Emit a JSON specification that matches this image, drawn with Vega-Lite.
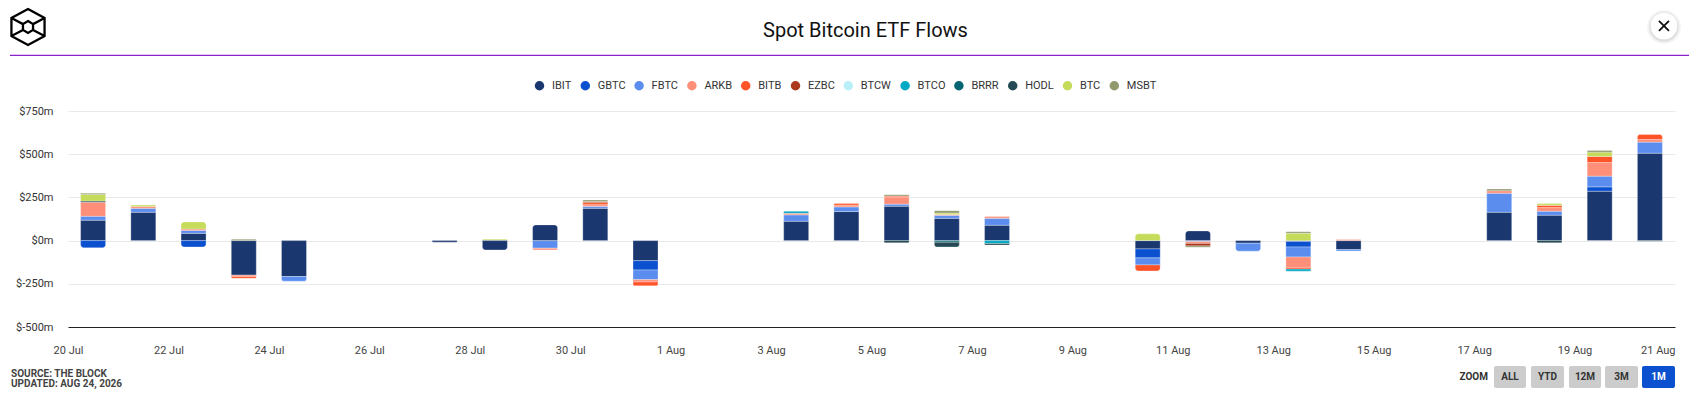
{
  "$schema": "https://vega.github.io/schema/vega-lite/v6.json",
  "autosize": {"type": "none"},
  "padding": {"left": 68, "top": 111, "right": 25, "bottom": 76},
  "width": 1607,
  "height": 216,
  "background": "white",
  "config": {"view": {"stroke": null}, "font": "Roboto"},
  "title": {"text": "Spot Bitcoin ETF Flows", "font": "Roboto", "fontSize": 20, "fontWeight": 400, "color": "#111111", "anchor": "middle", "frame": "group", "dx": -6, "offset": -37},
  "datasets": {
    "flows": [
      {"date": "2026-07-20T12:00:00Z", "ticker": "IBIT", "flow": 118},
      {"date": "2026-07-20T12:00:00Z", "ticker": "GBTC", "flow": -42},
      {"date": "2026-07-20T12:00:00Z", "ticker": "FBTC", "flow": 23},
      {"date": "2026-07-20T12:00:00Z", "ticker": "ARKB", "flow": 81},
      {"date": "2026-07-20T12:00:00Z", "ticker": "HODL", "flow": 7},
      {"date": "2026-07-20T12:00:00Z", "ticker": "BTC", "flow": 38},
      {"date": "2026-07-20T12:00:00Z", "ticker": "MSBT", "flow": 7},
      {"date": "2026-07-21T12:00:00Z", "ticker": "IBIT", "flow": 164},
      {"date": "2026-07-21T12:00:00Z", "ticker": "FBTC", "flow": 23},
      {"date": "2026-07-21T12:00:00Z", "ticker": "ARKB", "flow": 11},
      {"date": "2026-07-21T12:00:00Z", "ticker": "BTC", "flow": 8},
      {"date": "2026-07-22T12:00:00Z", "ticker": "IBIT", "flow": 42},
      {"date": "2026-07-22T12:00:00Z", "ticker": "GBTC", "flow": -37},
      {"date": "2026-07-22T12:00:00Z", "ticker": "FBTC", "flow": 17},
      {"date": "2026-07-22T12:00:00Z", "ticker": "ARKB", "flow": 8},
      {"date": "2026-07-22T12:00:00Z", "ticker": "BTC", "flow": 41},
      {"date": "2026-07-23T12:00:00Z", "ticker": "IBIT", "flow": -200},
      {"date": "2026-07-23T12:00:00Z", "ticker": "ARKB", "flow": -8},
      {"date": "2026-07-23T12:00:00Z", "ticker": "BITB", "flow": -10},
      {"date": "2026-07-23T12:00:00Z", "ticker": "MSBT", "flow": 8},
      {"date": "2026-07-24T12:00:00Z", "ticker": "IBIT", "flow": -208},
      {"date": "2026-07-24T12:00:00Z", "ticker": "FBTC", "flow": -27},
      {"date": "2026-07-27T12:00:00Z", "ticker": "IBIT", "flow": -9},
      {"date": "2026-07-28T12:00:00Z", "ticker": "IBIT", "flow": -54},
      {"date": "2026-07-28T12:00:00Z", "ticker": "BTC", "flow": 8},
      {"date": "2026-07-29T12:00:00Z", "ticker": "IBIT", "flow": 91},
      {"date": "2026-07-29T12:00:00Z", "ticker": "FBTC", "flow": -44},
      {"date": "2026-07-29T12:00:00Z", "ticker": "ARKB", "flow": -10},
      {"date": "2026-07-30T12:00:00Z", "ticker": "IBIT", "flow": 187},
      {"date": "2026-07-30T12:00:00Z", "ticker": "FBTC", "flow": 11},
      {"date": "2026-07-30T12:00:00Z", "ticker": "ARKB", "flow": 10},
      {"date": "2026-07-30T12:00:00Z", "ticker": "BITB", "flow": 12},
      {"date": "2026-07-30T12:00:00Z", "ticker": "EZBC", "flow": 6},
      {"date": "2026-07-30T12:00:00Z", "ticker": "MSBT", "flow": 9},
      {"date": "2026-07-31T12:00:00Z", "ticker": "IBIT", "flow": -116},
      {"date": "2026-07-31T12:00:00Z", "ticker": "GBTC", "flow": -54},
      {"date": "2026-07-31T12:00:00Z", "ticker": "FBTC", "flow": -56},
      {"date": "2026-07-31T12:00:00Z", "ticker": "ARKB", "flow": -14},
      {"date": "2026-07-31T12:00:00Z", "ticker": "BITB", "flow": -22},
      {"date": "2026-08-03T12:00:00Z", "ticker": "IBIT", "flow": 112},
      {"date": "2026-08-03T12:00:00Z", "ticker": "FBTC", "flow": 37},
      {"date": "2026-08-03T12:00:00Z", "ticker": "ARKB", "flow": 9},
      {"date": "2026-08-03T12:00:00Z", "ticker": "BTCO", "flow": 12},
      {"date": "2026-08-04T12:00:00Z", "ticker": "IBIT", "flow": 168},
      {"date": "2026-08-04T12:00:00Z", "ticker": "FBTC", "flow": 27},
      {"date": "2026-08-04T12:00:00Z", "ticker": "ARKB", "flow": 10},
      {"date": "2026-08-04T12:00:00Z", "ticker": "BITB", "flow": 9},
      {"date": "2026-08-05T12:00:00Z", "ticker": "IBIT", "flow": 199},
      {"date": "2026-08-05T12:00:00Z", "ticker": "FBTC", "flow": 12},
      {"date": "2026-08-05T12:00:00Z", "ticker": "ARKB", "flow": 42},
      {"date": "2026-08-05T12:00:00Z", "ticker": "BITB", "flow": 5},
      {"date": "2026-08-05T12:00:00Z", "ticker": "HODL", "flow": -13},
      {"date": "2026-08-05T12:00:00Z", "ticker": "MSBT", "flow": 8},
      {"date": "2026-08-06T12:00:00Z", "ticker": "IBIT", "flow": 129},
      {"date": "2026-08-06T12:00:00Z", "ticker": "FBTC", "flow": 17},
      {"date": "2026-08-06T12:00:00Z", "ticker": "ARKB", "flow": 6},
      {"date": "2026-08-06T12:00:00Z", "ticker": "BRRR", "flow": -9},
      {"date": "2026-08-06T12:00:00Z", "ticker": "HODL", "flow": -28},
      {"date": "2026-08-06T12:00:00Z", "ticker": "BTC", "flow": 8},
      {"date": "2026-08-06T12:00:00Z", "ticker": "MSBT", "flow": 13},
      {"date": "2026-08-07T12:00:00Z", "ticker": "IBIT", "flow": 89},
      {"date": "2026-08-07T12:00:00Z", "ticker": "FBTC", "flow": 40},
      {"date": "2026-08-07T12:00:00Z", "ticker": "ARKB", "flow": 10},
      {"date": "2026-08-07T12:00:00Z", "ticker": "BTCO", "flow": -17},
      {"date": "2026-08-07T12:00:00Z", "ticker": "HODL", "flow": -9},
      {"date": "2026-08-10T12:00:00Z", "ticker": "IBIT", "flow": -48},
      {"date": "2026-08-10T12:00:00Z", "ticker": "GBTC", "flow": -52},
      {"date": "2026-08-10T12:00:00Z", "ticker": "FBTC", "flow": -41},
      {"date": "2026-08-10T12:00:00Z", "ticker": "BITB", "flow": -35},
      {"date": "2026-08-10T12:00:00Z", "ticker": "BTC", "flow": 39},
      {"date": "2026-08-11T12:00:00Z", "ticker": "IBIT", "flow": 56},
      {"date": "2026-08-11T12:00:00Z", "ticker": "FBTC", "flow": -6},
      {"date": "2026-08-11T12:00:00Z", "ticker": "ARKB", "flow": -10},
      {"date": "2026-08-11T12:00:00Z", "ticker": "EZBC", "flow": -15},
      {"date": "2026-08-11T12:00:00Z", "ticker": "MSBT", "flow": -8},
      {"date": "2026-08-12T12:00:00Z", "ticker": "IBIT", "flow": -15},
      {"date": "2026-08-12T12:00:00Z", "ticker": "FBTC", "flow": -46},
      {"date": "2026-08-13T12:00:00Z", "ticker": "IBIT", "flow": -5},
      {"date": "2026-08-13T12:00:00Z", "ticker": "GBTC", "flow": -32},
      {"date": "2026-08-13T12:00:00Z", "ticker": "FBTC", "flow": -58},
      {"date": "2026-08-13T12:00:00Z", "ticker": "ARKB", "flow": -60},
      {"date": "2026-08-13T12:00:00Z", "ticker": "BITB", "flow": -10},
      {"date": "2026-08-13T12:00:00Z", "ticker": "BTCO", "flow": -12},
      {"date": "2026-08-13T12:00:00Z", "ticker": "BTC", "flow": 42},
      {"date": "2026-08-13T12:00:00Z", "ticker": "MSBT", "flow": 9},
      {"date": "2026-08-14T12:00:00Z", "ticker": "IBIT", "flow": -52},
      {"date": "2026-08-14T12:00:00Z", "ticker": "FBTC", "flow": -8},
      {"date": "2026-08-14T12:00:00Z", "ticker": "ARKB", "flow": 6},
      {"date": "2026-08-17T12:00:00Z", "ticker": "IBIT", "flow": 164},
      {"date": "2026-08-17T12:00:00Z", "ticker": "FBTC", "flow": 110},
      {"date": "2026-08-17T12:00:00Z", "ticker": "ARKB", "flow": 15},
      {"date": "2026-08-17T12:00:00Z", "ticker": "MSBT", "flow": 10},
      {"date": "2026-08-18T12:00:00Z", "ticker": "IBIT", "flow": 147},
      {"date": "2026-08-18T12:00:00Z", "ticker": "FBTC", "flow": 23},
      {"date": "2026-08-18T12:00:00Z", "ticker": "ARKB", "flow": 21},
      {"date": "2026-08-18T12:00:00Z", "ticker": "BITB", "flow": 13},
      {"date": "2026-08-18T12:00:00Z", "ticker": "HODL", "flow": -13},
      {"date": "2026-08-18T12:00:00Z", "ticker": "BTC", "flow": 10},
      {"date": "2026-08-19T12:00:00Z", "ticker": "IBIT", "flow": 286},
      {"date": "2026-08-19T12:00:00Z", "ticker": "GBTC", "flow": 25},
      {"date": "2026-08-19T12:00:00Z", "ticker": "FBTC", "flow": 62},
      {"date": "2026-08-19T12:00:00Z", "ticker": "ARKB", "flow": 79},
      {"date": "2026-08-19T12:00:00Z", "ticker": "BITB", "flow": 35},
      {"date": "2026-08-19T12:00:00Z", "ticker": "BTC", "flow": 25},
      {"date": "2026-08-19T12:00:00Z", "ticker": "MSBT", "flow": 10},
      {"date": "2026-08-20T12:00:00Z", "ticker": "IBIT", "flow": 506},
      {"date": "2026-08-20T12:00:00Z", "ticker": "FBTC", "flow": 64},
      {"date": "2026-08-20T12:00:00Z", "ticker": "ARKB", "flow": 15},
      {"date": "2026-08-20T12:00:00Z", "ticker": "BITB", "flow": 29},
      {"date": "2026-08-20T12:00:00Z", "ticker": "HODL", "flow": -4}
    ]
  },
  "data": {"values": [{}]},
  "layer": [
    {
      "data": {"name": "flows"},
      "transform": [
        {"calculate": "indexof(['IBIT','GBTC','FBTC','ARKB','BITB','EZBC','BTCW','BTCO','BRRR','HODL','BTC','MSBT'], datum.ticker)", "as": "series"},
        {"stack": "flow", "groupby": ["date"], "sort": [{"field": "series", "order": "ascending"}], "offset": "zero", "as": ["y0", "y1"]},
        {"calculate": "datum.flow > 0", "as": "up"},
        {"joinaggregate": [{"op": "max", "field": "series", "as": "last"}], "groupby": ["date", "up"]}
      ],
      "encoding": {
        "x": {
          "field": "date",
          "type": "temporal",
          "scale": {"type": "utc", "padding": 0, "domain": ["2026-07-20T00:00:00Z", "2026-08-21T00:00:00Z"]},
          "axis": {
            "title": null,
            "values": ["2026-07-20T00:00:00Z", "2026-07-22T00:00:00Z", "2026-07-24T00:00:00Z", "2026-07-26T00:00:00Z", "2026-07-28T00:00:00Z", "2026-07-30T00:00:00Z", "2026-08-01T00:00:00Z", "2026-08-03T00:00:00Z", "2026-08-05T00:00:00Z", "2026-08-07T00:00:00Z", "2026-08-09T00:00:00Z", "2026-08-11T00:00:00Z", "2026-08-13T00:00:00Z", "2026-08-15T00:00:00Z", "2026-08-17T00:00:00Z", "2026-08-19T00:00:00Z", "2026-08-21T00:00:00Z"],
            "labelExpr": "utcFormat(datum.value, '%-d %b')",
            "grid": false,
            "ticks": false,
            "domain": true,
            "domainColor": "#222222",
            "labelAngle": 0,
            "labelBound": false,
            "labelFlush": false,
            "labelOverlap": false,
            "labelPadding": 17,
            "labelFont": "Roboto",
            "labelFontSize": 11,
            "labelColor": "#444444",
            "labelAlign": {"condition": {"test": "utcdate(datum.value) == 21 && utcmonth(datum.value) == 7", "value": "right"}, "value": "center"}
          }
        },
        "y": {
          "field": "y1",
          "type": "quantitative",
          "scale": {"domain": [-500, 750], "nice": false},
          "axis": {
            "title": null,
            "values": [-500, -250, 0, 250, 500, 750],
            "labelExpr": "'$' + datum.value + 'm'",
            "grid": true,
            "gridColor": "#e9e9e9",
            "ticks": false,
            "domain": false,
            "labelPadding": 15,
            "labelFont": "Roboto",
            "labelFontSize": 11,
            "labelColor": "#333333"
          }
        },
        "y2": {"field": "y0"},
        "color": {
          "field": "ticker",
          "type": "nominal",
          "scale": {
            "domain": ["IBIT", "GBTC", "FBTC", "ARKB", "BITB", "EZBC", "BTCW", "BTCO", "BRRR", "HODL", "BTC", "MSBT"],
            "range": ["#1a3770", "#0b50cf", "#5b8def", "#ff8f78", "#ff5328", "#ab3a1d", "#b9eff9", "#04a9c4", "#056573", "#254a55", "#c5dc5b", "#8f9a6d"]
          },
          "legend": {
            "title": null,
            "orient": "none",
            "legendX": 466,
            "legendY": -31,
            "direction": "horizontal",
            "columns": 12,
            "columnPadding": 7.8,
            "symbolType": "circle",
            "symbolSize": 90,
            "symbolStrokeWidth": 0,
            "labelOffset": 7,
            "labelFont": "Roboto",
            "labelFontSize": 11,
            "labelColor": "#333333"
          }
        }
      },
      "layer": [
        {
          "transform": [{"filter": "datum.series != datum.last"}],
          "mark": {"type": "bar", "size": 25, "stroke": "white", "strokeWidth": 1, "strokeOpacity": 0.3}
        },
        {
          "transform": [{"filter": "datum.series == datum.last && datum.up"}],
          "mark": {"type": "bar", "size": 25, "stroke": "white", "strokeWidth": 1, "strokeOpacity": 0.3, "cornerRadiusTopLeft": 3, "cornerRadiusTopRight": 3}
        },
        {
          "transform": [{"filter": "datum.series == datum.last && !datum.up"}],
          "mark": {"type": "bar", "size": 25, "stroke": "white", "strokeWidth": 1, "strokeOpacity": 0.3, "cornerRadiusBottomLeft": 3, "cornerRadiusBottomRight": 3}
        }
      ]
    },
    {
      "mark": {"type": "rule", "color": "#8a22c9", "strokeWidth": 1.3},
      "encoding": {
        "x": {"datum": {"year": 2026, "month": 7, "date": 18, "hours": 20, "minutes": 17, "utc": true}, "type": "temporal"},
        "x2": {"datum": {"year": 2026, "month": 8, "date": 21, "hours": 6, "minutes": 43, "utc": true}},
        "y": {"datum": 1072, "type": "quantitative"}
      }
    },
    {
      "mark": {"type": "point", "shape": "M0,-1L0.92,-0.5L0.92,0.5L0,1L-0.92,0.5L-0.92,-0.5ZM0,-0.33L0.28,-0.16L0.28,0.16L0,0.33L-0.28,0.16L-0.28,-0.16ZM-0.92,-0.5L-0.28,-0.16M0.92,-0.5L0.28,-0.16M-0.92,0.5L-0.28,0.16M0.92,0.5L0.28,0.16", "size": 1296, "filled": false, "stroke": "#000000", "strokeWidth": 2.3, "opacity": 1},
      "encoding": {
        "x": {"datum": {"year": 2026, "month": 7, "date": 19, "hours": 4, "minutes": 53, "utc": true}, "type": "temporal"},
        "y": {"datum": 1236, "type": "quantitative"}
      }
    },
    {
      "mark": {"type": "point", "shape": "circle", "size": 1130, "filled": true, "color": "#000000", "opacity": 0.05},
      "encoding": {
        "x": {"datum": {"year": 2026, "month": 8, "date": 20, "hours": 18, "minutes": 43, "utc": true}, "type": "temporal"},
        "y": {"datum": 1236, "type": "quantitative"}
      }
    },
    {
      "mark": {"type": "point", "shape": "circle", "size": 860, "filled": true, "color": "#000000", "opacity": 0.08},
      "encoding": {
        "x": {"datum": {"year": 2026, "month": 8, "date": 20, "hours": 18, "minutes": 43, "utc": true}, "type": "temporal"},
        "y": {"datum": 1236, "type": "quantitative"}
      }
    },
    {
      "mark": {"type": "point", "shape": "circle", "size": 707, "filled": true, "color": "#ffffff", "opacity": 1},
      "encoding": {
        "x": {"datum": {"year": 2026, "month": 8, "date": 20, "hours": 18, "minutes": 43, "utc": true}, "type": "temporal"},
        "y": {"datum": 1242, "type": "quantitative"}
      }
    },
    {
      "mark": {"type": "point", "shape": "M-1,-1L1,1M-1,1L1,-1", "size": 100, "filled": false, "stroke": "#111111", "strokeWidth": 1.8, "opacity": 1},
      "encoding": {
        "x": {"datum": {"year": 2026, "month": 8, "date": 20, "hours": 18, "minutes": 43, "utc": true}, "type": "temporal"},
        "y": {"datum": 1242, "type": "quantitative"}
      }
    },
    {
      "mark": {"type": "text", "text": "SOURCE: THE BLOCK", "align": "left", "baseline": "middle", "font": "Roboto", "fontSize": 10, "fontWeight": 700, "color": "#444444"},
      "encoding": {
        "x": {"datum": {"year": 2026, "month": 7, "date": 18, "hours": 20, "minutes": 46, "utc": true}, "type": "temporal"},
        "y": {"datum": -770, "type": "quantitative"}
      }
    },
    {
      "mark": {"type": "text", "text": "UPDATED: AUG 24, 2026", "align": "left", "baseline": "middle", "font": "Roboto", "fontSize": 10, "fontWeight": 700, "color": "#444444"},
      "encoding": {
        "x": {"datum": {"year": 2026, "month": 7, "date": 18, "hours": 20, "minutes": 46, "utc": true}, "type": "temporal"},
        "y": {"datum": -832, "type": "quantitative"}
      }
    },
    {
      "mark": {"type": "text", "text": "ZOOM", "align": "right", "baseline": "middle", "font": "Roboto", "fontSize": 10, "fontWeight": 700, "color": "#333333"},
      "encoding": {
        "x": {"datum": {"year": 2026, "month": 8, "date": 17, "hours": 6, "minutes": 37, "utc": true}, "type": "temporal"},
        "y": {"datum": -789, "type": "quantitative"}
      }
    },
    {
      "mark": {"type": "rect", "color": "#cccccc", "cornerRadius": 2},
      "encoding": {
        "x": {"datum": {"year": 2026, "month": 8, "date": 17, "hours": 9, "minutes": 30, "utc": true}, "type": "temporal"},
        "x2": {"datum": {"year": 2026, "month": 8, "date": 18, "hours": 0, "minutes": 47, "utc": true}},
        "y": {"datum": -726, "type": "quantitative"},
        "y2": {"datum": -853}
      }
    },
    {
      "mark": {"type": "rect", "color": "#cccccc", "cornerRadius": 2},
      "encoding": {
        "x": {"datum": {"year": 2026, "month": 8, "date": 18, "hours": 3, "minutes": 10, "utc": true}, "type": "temporal"},
        "x2": {"datum": {"year": 2026, "month": 8, "date": 18, "hours": 18, "minutes": 57, "utc": true}},
        "y": {"datum": -726, "type": "quantitative"},
        "y2": {"datum": -853}
      }
    },
    {
      "mark": {"type": "rect", "color": "#cccccc", "cornerRadius": 2},
      "encoding": {
        "x": {"datum": {"year": 2026, "month": 8, "date": 18, "hours": 21, "minutes": 20, "utc": true}, "type": "temporal"},
        "x2": {"datum": {"year": 2026, "month": 8, "date": 19, "hours": 12, "minutes": 38, "utc": true}},
        "y": {"datum": -726, "type": "quantitative"},
        "y2": {"datum": -853}
      }
    },
    {
      "mark": {"type": "rect", "color": "#cccccc", "cornerRadius": 2},
      "encoding": {
        "x": {"datum": {"year": 2026, "month": 8, "date": 19, "hours": 14, "minutes": 33, "utc": true}, "type": "temporal"},
        "x2": {"datum": {"year": 2026, "month": 8, "date": 20, "hours": 6, "minutes": 19, "utc": true}},
        "y": {"datum": -726, "type": "quantitative"},
        "y2": {"datum": -853}
      }
    },
    {
      "mark": {"type": "rect", "color": "#0b50cf", "cornerRadius": 2},
      "encoding": {
        "x": {"datum": {"year": 2026, "month": 8, "date": 20, "hours": 8, "minutes": 14, "utc": true}, "type": "temporal"},
        "x2": {"datum": {"year": 2026, "month": 8, "date": 21, "hours": 0, "minutes": 0, "utc": true}},
        "y": {"datum": -726, "type": "quantitative"},
        "y2": {"datum": -853}
      }
    },
    {
      "mark": {"type": "text", "text": "ALL", "baseline": "middle", "font": "Roboto", "fontSize": 10, "fontWeight": 700, "color": "#333333"},
      "encoding": {
        "x": {"datum": {"year": 2026, "month": 8, "date": 17, "hours": 17, "minutes": 8, "utc": true}, "type": "temporal"},
        "y": {"datum": -789, "type": "quantitative"}
      }
    },
    {
      "mark": {"type": "text", "text": "YTD", "baseline": "middle", "font": "Roboto", "fontSize": 10, "fontWeight": 700, "color": "#333333"},
      "encoding": {
        "x": {"datum": {"year": 2026, "month": 8, "date": 18, "hours": 11, "minutes": 4, "utc": true}, "type": "temporal"},
        "y": {"datum": -789, "type": "quantitative"}
      }
    },
    {
      "mark": {"type": "text", "text": "12M", "baseline": "middle", "font": "Roboto", "fontSize": 10, "fontWeight": 700, "color": "#333333"},
      "encoding": {
        "x": {"datum": {"year": 2026, "month": 8, "date": 19, "hours": 4, "minutes": 59, "utc": true}, "type": "temporal"},
        "y": {"datum": -789, "type": "quantitative"}
      }
    },
    {
      "mark": {"type": "text", "text": "3M", "baseline": "middle", "font": "Roboto", "fontSize": 10, "fontWeight": 700, "color": "#333333"},
      "encoding": {
        "x": {"datum": {"year": 2026, "month": 8, "date": 19, "hours": 22, "minutes": 25, "utc": true}, "type": "temporal"},
        "y": {"datum": -789, "type": "quantitative"}
      }
    },
    {
      "mark": {"type": "text", "text": "1M", "baseline": "middle", "font": "Roboto", "fontSize": 10, "fontWeight": 700, "color": "#ffffff"},
      "encoding": {
        "x": {"datum": {"year": 2026, "month": 8, "date": 20, "hours": 16, "minutes": 6, "utc": true}, "type": "temporal"},
        "y": {"datum": -789, "type": "quantitative"}
      }
    }
  ]
}
